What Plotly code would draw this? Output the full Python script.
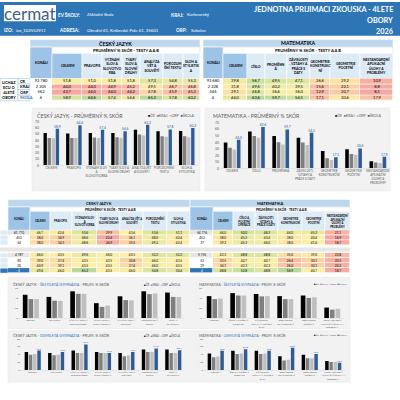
import plotly.graph_objects as go
import numpy as np

# ================= DATA =================
levels = ["ČR", "KRAJ", "ORP", "ŠKOLA"]

# --- table 1 (4leté obory) ---
cj_hdr1 = ["CELKEM", "PRAVOPIS", "VÝZNAM<br>SLOV A<br>SLOVOTVO<br>RBA", "TVARY<br>SLOV A<br>SLOVNÍ<br>DRUHY",
           "ANALÝZA<br>VĚT A<br>SOUVĚTÍ", "POROZUM<br>ĚNÍ TEXTU", "SLOH A<br>STYLISTIK<br>A"]
ma_hdr1 = ["CELKEM", "ČÍSLO", "PROMĚNN<br>Á", "ZÁVISLOSTI<br>, VZTAHY A<br>PRÁCE S<br>DATY",
           "GEOMETRIE<br>KONSTRUKČ<br>NÍ", "GEOMETRIE<br>POČETNÍ", "NESTANDARDNÍ<br>APLIKAČNÍ<br>ÚLOHY A<br>PROBLÉMY"]
cj_konali_4 = ["93 780", "2 205", "563", "6"]
ma_konali_4 = ["93 680", "2 228", "546", "4"]
cj_cr_4 = [51.8, 51.0, 51.8, 51.8, 57.3, 54.8, 55.3]
cj_kraj_4 = [44.0, 44.0, 44.9, 45.2, 49.5, 46.7, 46.8]
cj_orp_4 = [43.7, 44.0, 44.0, 44.2, 47.8, 45.9, 45.3]
cj_skola_4 = [58.9, 64.6, 57.4, 54.6, 65.3, 57.8, 60.2]
ma_cr_4 = [39.8, 56.7, 49.5, 47.1, 26.6, 29.2, 10.9]
ma_kraj_4 = [31.8, 49.6, 40.2, 39.5, 15.6, 22.1, 8.8]
ma_orp_4 = [29.1, 46.8, 36.6, 36.0, 12.9, 20.7, 8.1]
ma_skola_4 = [44.0, 63.6, 59.7, 54.5, 17.1, 30.6, 17.9]

# --- chart categories ---
cj_cats_a = ["CELKEM", "PRAVOPIS", "VÝZNAM SLOV<br>A<br>SLOVOTVORBA", "TVARY SLOV A<br>SLOVNÍ DRUHY",
             "ANALÝZA VĚT<br>A SOUVĚTÍ", "POROZUMĚNÍ<br>TEXTU", "SLOH A<br>STYLISTIKA"]
ma_cats_b = ["CELKEM", "ČÍSLO", "PROMĚNNÁ", "ZÁVISLOSTI,<br>VZTAHY A<br>PRÁCE S DATY", "GEOMETRIE<br>KONSTRUKČNÍ",
             "GEOMETRIE<br>POČETNÍ", "NESTANDARDNÍ<br>APLIKAČNÍ<br>ÚLOHY A<br>PROBLÉMY"]
cj_cats_g = ["CELKEM", "PRAVOPIS", "VÝZNAM SLOV A<br>SLOVOTVORBA", "TVARY SLOV A<br>SLOVNÍ DRUHY",
             "ANALÝZA VĚT A<br>SOUVĚTÍ", "POROZUMĚNÍ<br>TEXTU", "SLOH A<br>STYLISTIKA"]
ma_cats_g = ["CELKEM", "ČÍSLO A POČETNÍ<br>OPERACE", "ZÁVISLOSTI,<br>VZTAHY A PRÁCE S<br>DATY", "GEOMETRIE<br>KONSTRUKČNÍ",
             "GEOMETRIE<br>POČETNÍ", "NESTANDARDNÍ<br>APLIKAČNÍ ÚLOHY A<br>PROBLÉMY"]

# --- table 2 (gymnázia) ---
cj_hdr2 = ["CELKEM", "PRAVOPIS", "VÝZNAM SLOV<br>A<br>SLOVOTVORBA", "TVARY SLOV A<br>SLOVNÍ DRUHY",
           "ANALÝZA VĚT A<br>SOUVĚTÍ", "POROZUMĚNÍ<br>TEXTU", "SLOH A<br>STYLISTIKA"]
ma_hdr2 = ["CELKEM", "ČÍSLO A<br>POČETNÍ<br>OPERACE", "ZÁVISLOSTI,<br>VZTAHY A<br>PRÁCE S DATY", "GEOMETRIE<br>KONSTRUKČNÍ",
           "GEOMETRIE<br>POČETNÍ", "NESTANDARDNÍ<br>APLIKAČNÍ<br>ÚLOHY A<br>PROBLÉMY"]
cj_konali_6 = ["61 770", "452", "54"]
ma_konali_6 = ["54 776", "452", "37"]
cj_cr_6 = [46.7, 42.4, 53.6, 29.9, 43.6, 53.6, 51.1]
cj_kraj_6 = [38.0, 34.9, 48.6, 22.4, 36.1, 48.0, 42.4]
cj_orp_6 = [38.0, 34.3, 48.6, 24.9, 35.5, 49.2, 42.4]
ma_cr_6 = [44.0, 50.0, 48.2, 44.0, 45.2, 21.1]
ma_kraj_6 = [38.0, 45.2, 43.4, 38.0, 40.4, 16.9]
ma_orp_6 = [39.2, 45.2, 44.0, 38.0, 41.6, 18.7]

cj_konali_8 = ["4 787", "90", "20", "4"]
ma_konali_8 = ["5 755", "53", "19", "4"]
cj_cr_8 = [46.0, 43.5, 49.6, 46.0, 43.5, 52.2, 52.2]
cj_kraj_8 = [39.0, 37.4, 43.5, 43.5, 34.8, 46.0, 43.5]
cj_orp_8 = [40.9, 39.1, 43.5, 43.5, 37.4, 46.0, 43.5]
cj_skola_8 = [49.6, 46.0, 65.2, 43.5, 46.0, 54.8, 50.4]
ma_cr_8 = [42.3, 48.8, 48.8, 35.0, 39.0, 22.8]
ma_kraj_8 = [32.5, 40.7, 40.7, 24.4, 30.1, 20.3]
ma_orp_8 = [34.1, 42.3, 42.3, 26.0, 30.1, 20.3]
ma_skola_8 = [48.8, 52.8, 48.8, 56.9, 40.7, 18.7]

# ================= STYLE =================
FONT = "Lato, 'Open Sans', sans-serif"
BLUE_HDR = "#2E75B6"
C_MID = "#9DC3E6"
C_PALE = "#DDEBF7"
C_TOP = "#BDD7EE"
RED, YEL, GRN = "#F6A7A2", "#FFEFA6", "#B7DA9C"
SER_COL = ["#000000", "#7F7F7F", "#BFBFBF", "#2F5C98"]
GRAYTXT = "#595959"

fig = go.Figure()
SH, AN = [], []


def rect(x0, y0, x1, y1, fill, line=None, lw=0):
    SH.append(dict(type="rect", xref="x", yref="y", x0=x0, y0=y0, x1=x1, y1=y1, fillcolor=fill,
                   line=dict(color=line or fill, width=lw), layer="below"))


def txt(x, y, s, size, color="#000", bold=False, xa="center", ya="middle"):
    AN.append(dict(xref="x", yref="y", x=x, y=y, text=(f"<b>{s}</b>" if bold else s), showarrow=False,
                   font=dict(size=size, color=color, family=FONT), xanchor=xa, yanchor=ya, align="center",
                   borderpad=0))


def fmt(v):
    return f"{v:.1f}".replace(".", ",")


def scale_for(values):
    v = np.array(values, float).ravel()
    lo, hi, mid = v.min(), v.max(), np.percentile(v, 50)
    p = float((mid - lo) / (hi - lo))
    return [[0, RED], [p, YEL], [1, GRN]], lo, hi


def heat(xe, ye, rows, fs, cs=None, zr=None, const=None, tcol="#000"):
    z = np.array(rows, float) if const is None else np.zeros((len(rows), len(rows[0])))
    text = [[(fmt(v) if const is None else v) for v in r] for r in rows]
    if const is not None:
        cs, zr = [[0, const], [1, const]], (0, 1)
    fig.add_trace(go.Heatmap(x=xe, y=ye, z=z, text=text, texttemplate="%{text}",
                             textfont=dict(size=fs, color=tcol, family=FONT), colorscale=cs,
                             zmin=zr[0], zmax=zr[1], showscale=False, xgap=0.7, ygap=0.7,
                             hoverinfo="skip", xaxis="x", yaxis="y"))


def konali(xe, ye, counts, fs):
    # ČR row light gray, ŠKOLA row (if present) blue, others white
    for k, cnt in enumerate(counts):
        fill, tc = "#FFFFFF", "#000"
        if k == 0:
            fill = "#E7E6E6"
        if k == 3:
            fill, tc = "#2E75B6", "#FFFFFF"
        heat(xe, ye[k:k + 2], [[cnt]], fs, const=fill, tcol=tc)


# ================= HEADER =================
rect(0, 0, 400, 34, BLUE_HDR)
rect(4, 3, 56, 19.5, "#FFFFFF")
txt(30, 11.5, "cermat", 17, "#3F5E8C")
txt(57, 13, "EV ŠKOLY:", 4.6, "white", True, "left")
txt(86, 13, "Základní škola", 4.3, "white", False, "left")
txt(170, 13, "KRAJ:", 4.6, "white", True, "left")
txt(186, 13, "Karlovarský", 4.3, "white", False, "left")
txt(3, 28.5, "IZO:", 4.6, "white", True, "left")
txt(15, 28.5, "izo_102552911", 4.3, "white", False, "left")
txt(58, 28.5, "ADRESA:", 4.6, "white", True, "left")
txt(86, 28.5, "Okružní 61, Královské Pole 61, 35601", 4.3, "white", False, "left")
txt(175, 28.5, "ORP:", 4.6, "white", True, "left")
txt(190, 28.5, "Sokolov", 4.3, "white", False, "left")
txt(394, 7.5, "JEDNOTNA PRIJIMACI ZKOUSKA - 4LETE", 7.3, "white", True, "right")
txt(394, 18.5, "OBORY", 7.3, "white", True, "right")
txt(394, 29.5, "2026", 7.3, "white", True, "right")


# ================= TABLE HELPERS =================
def table_headers(xe, y_top, y_pr, y_hd, y_end, title, hdrs, hfs, tfs):
    rect(xe[0], y_top, xe[-1], y_pr, C_TOP, "#FFFFFF", 0.6)
    txt((xe[0] + xe[-1]) / 2, (y_top + y_pr) / 2, title, tfs, "#000", True)
    rect(xe[1], y_pr, xe[-1], y_hd, "#FFFFFF", "#D0D0D0", 0.5)
    txt((xe[1] + xe[-1]) / 2, (y_pr + y_hd) / 2, "PRŮMĚRNÝ % SKÓR - TESTY A A B", tfs * 0.8, "#000", True)
    rect(xe[0], y_pr, xe[1], y_end, C_MID, "#FFFFFF", 0.6)
    txt((xe[0] + xe[1]) / 2, (y_pr + y_end) / 2, "KONÁLI", hfs, "#000", True)
    for i, h in enumerate(hdrs):
        rect(xe[i + 1], y_hd, xe[i + 2], y_end, C_MID if i == 0 else C_PALE, "#FFFFFF", 0.6)
        txt((xe[i + 1] + xe[i + 2]) / 2, (y_hd + y_end) / 2, h, hfs, "#000", True)


# ================= TABLE 1 =================
cj1_x = [30, 52, 82, 102, 122, 140, 163, 183, 200]
ma1_x = [203, 223, 247, 265, 287, 310, 330, 360, 393]
T1 = (38, 45.5, 52, 77.3)
r1 = [77.3 + 5.6 * k for k in range(5)]
table_headers(cj1_x, *T1, "ČESKÝ JAZYK", cj_hdr1, 3.4, 5.2)
table_headers(ma1_x, *T1, "MATEMATIKA", ma_hdr1, 3.4, 5.2)

cj4 = [cj_cr_4, cj_kraj_4, cj_orp_4, cj_skola_4]
ma4 = [ma_cr_4, ma_kraj_4, ma_orp_4, ma_skola_4]
heat(cj1_x[:2], r1, [[k] for k in cj_konali_4], 4.0, const="#FFFFFF")
cs, lo, hi = scale_for(cj4)
heat(cj1_x[1:], r1, cj4, 4.0, cs, (lo, hi))
heat(ma1_x[:2], r1, [[k] for k in ma_konali_4], 4.0, const="#FFFFFF")
cs, lo, hi = scale_for(ma4)
heat(ma1_x[1:], r1, ma4, 4.0, cs, (lo, hi))

rect(0, r1[0], 18, r1[-1], "#FFFFFF", "#9DC3E6", 0.6)
txt(9, (r1[0] + r1[-1]) / 2, "UCHAZ<br>EČŮ O<br>4LETÉ<br>OBORY", 3.9, "#000", True)
for k, lab in enumerate(levels):
    rect(18, r1[k], 30, r1[k + 1], "#FFFFFF", "#9DC3E6", 0.6)
    txt(19, (r1[k] + r1[k + 1]) / 2, lab, 3.9, "#2E75B6" if k == 3 else "#000", True, "left")

# ================= TABLE 2 =================
cj2_x = [8, 30, 50, 72, 97, 120, 143, 167, 190]
ma2_x = [190, 213, 233, 255, 278, 302, 325, 350]
T2 = (199.5, 207, 211.5, 230.5)
rb1 = [230.5 + 5.0 * k for k in range(4)]
rb2 = [253.5 + 5.1 * k for k in range(5)]
table_headers(cj2_x, *T2, "ČESKÝ JAZYK", cj_hdr2, 2.7, 4.0)
table_headers(ma2_x, *T2, "MATEMATIKA", ma_hdr2, 2.7, 4.0)
rect(0, 248, 350, 252, "#E7E6E6", "#E7E6E6", 0)

cj6 = [cj_cr_6, cj_kraj_6, cj_orp_6]
ma6 = [ma_cr_6, ma_kraj_6, ma_orp_6]
cj8 = [cj_cr_8, cj_kraj_8, cj_orp_8, cj_skola_8]
ma8 = [ma_cr_8, ma_kraj_8, ma_orp_8, ma_skola_8]
cs_cj2, lo_cj2, hi_cj2 = scale_for(cj6 + cj8)
cs_ma2, lo_ma2, hi_ma2 = scale_for(ma6 + ma8)
konali(cj2_x[:2], rb1, cj_konali_6, 3.2)
heat(cj2_x[1:], rb1, cj6, 3.2, cs_cj2, (lo_cj2, hi_cj2))
konali(ma2_x[:2], rb1, ma_konali_6, 3.2)
heat(ma2_x[1:], rb1, ma6, 3.2, cs_ma2, (lo_ma2, hi_ma2))
konali(cj2_x[:2], rb2, cj_konali_8, 3.2)
heat(cj2_x[1:], rb2, cj8, 3.2, cs_cj2, (lo_cj2, hi_cj2))
konali(ma2_x[:2], rb2, ma_konali_8, 3.2)
heat(ma2_x[1:], rb2, ma8, 3.2, cs_ma2, (lo_ma2, hi_ma2))
for rr in (rb1, rb2):
    for k in range(len(rr) - 1):
        rect(0, rr[k], 8, rr[k + 1], "#2E75B6" if (len(rr) == 5 and k == 3) else C_PALE, "#FFFFFF", 0.6)

# ================= BAR CHARTS =================
charts = [
    dict(panel=(32, 107, 200, 191), plot=(40, 198, 121, 165), cats=cj_cats_a,
         ser=[cj_cr_4, cj_kraj_4, cj_orp_4, cj_skola_4], ymax=70, dt=10, cfs=3.0, yfs=3.4, tfs=3.4,
         title=["ČESKÝ JAZYK - PRŮMĚRNÝ % SKÓR"], tpos=(36, 114.3), tsz=5.2, lpos=(196, 114.5), lsz=3.6),
    dict(panel=(205, 107, 390, 191), plot=(220, 390, 122, 168), cats=ma_cats_b,
         ser=[ma_cr_4, ma_kraj_4, ma_orp_4, ma_skola_4], ymax=70, dt=10, cfs=3.0, yfs=3.4, tfs=3.4,
         title=["MATEMATIKA - PRŮMĚRNÝ % SKÓR"], tpos=(212, 114.6), tsz=5.2, lpos=(383, 114.5), lsz=3.6),
    dict(panel=(8, 278, 197, 330), plot=(19, 185, 289, 319.3), cats=cj_cats_g,
         ser=[cj_cr_6, cj_kraj_6, cj_orp_6, None], ymax=60, dt=20, cfs=2.4, yfs=2.6, tfs=2.6,
         title=["ČESKÝ JAZYK - ", "ŠESTILETÁ GYMNÁZIA", " - PRŮM. % SKÓR"], tpos=(12, 284.5), tsz=3.8,
         lpos=(181, 284.5), lsz=2.8),
    dict(panel=(198, 278, 350, 330), plot=(203, 344, 289, 319.3), cats=ma_cats_g,
         ser=[ma_cr_6, ma_kraj_6, ma_orp_6, None], ymax=60, dt=20, cfs=2.4, yfs=2.6, tfs=2.6,
         title=["MATEMATIKA - ", "ŠESTILETÁ GYMNÁZIA", " - PRŮM. % SKÓR"], tpos=(198, 284.5), tsz=3.4,
         lpos=(348, 284.5), lsz=2.6),
    dict(panel=(8, 332, 197, 384), plot=(21, 185, 340, 371.7), cats=cj_cats_g,
         ser=[cj_cr_8, cj_kraj_8, cj_orp_8, cj_skola_8], ymax=80, dt=20, cfs=2.4, yfs=2.6, tfs=2.6,
         title=["ČESKÝ JAZYK - ", "OSMILETÁ GYMNÁZIA", " - PRŮM. % SKÓR"], tpos=(12, 336.5), tsz=3.8,
         lpos=(181, 336.5), lsz=2.8),
    dict(panel=(198, 332, 350, 384), plot=(204, 345, 340, 371.7), cats=ma_cats_g,
         ser=[ma_cr_8, ma_kraj_8, ma_orp_8, ma_skola_8], ymax=80, dt=20, cfs=2.4, yfs=2.6, tfs=2.6,
         title=["MATEMATIKA - ", "OSMILETÁ GYMNÁZIA", " - PRŮM. % SKÓR"], tpos=(198, 336.5), tsz=3.4,
         lpos=(348, 336.5), lsz=2.6),
]

lay = {}
for i, c in enumerate(charts):
    n = i + 2
    xa, ya = f"x{n}", f"y{n}"
    px0, px1, pyt, pyb = c["plot"]
    rect(*c["panel"][:2], *c["panel"][2:], "#F2F2F2", "#E4E4E4", 0.5)
    for s, (vals, col, name) in enumerate(zip(c["ser"], SER_COL, levels)):
        if vals is None:
            continue
        is_sk = s == 3
        fig.add_trace(go.Bar(x=c["cats"], y=vals, marker=dict(color=col, line=dict(width=0)), name=name,
                             showlegend=False, xaxis=xa, yaxis=ya, hoverinfo="skip",
                             text=[fmt(v) for v in vals] if is_sk else None,
                             textposition="outside" if is_sk else None, cliponaxis=False,
                             constraintext="none",
                             textfont=dict(size=c["tfs"], color="#2F5C98", family=FONT)))
    lay[f"xaxis{n}"] = dict(domain=[px0 / 400, px1 / 400], anchor=ya, showgrid=False, zeroline=False,
                            showline=True, linecolor="#D9D9D9", linewidth=0.5, ticks="",
                            tickfont=dict(size=c["cfs"], color=GRAYTXT, family=FONT), tickangle=0,
                            fixedrange=True)
    lay[f"yaxis{n}"] = dict(domain=[1 - pyb / 400, 1 - pyt / 400], anchor=xa, range=[0, c["ymax"]],
                            dtick=c["dt"], showgrid=False, zeroline=False, showline=False, ticks="",
                            tickfont=dict(size=c["yfs"], color=GRAYTXT, family=FONT), fixedrange=True)
    t = c["title"]
    if len(t) == 1:
        ttxt = t[0]
    else:
        ttxt = f"{t[0]}<span style='color:#2E75B6'>{t[1]}</span>{t[2]}"
    txt(c["tpos"][0], c["tpos"][1], ttxt, c["tsz"], GRAYTXT, False, "left")
    leg = "  ".join(f"<span style='color:{col}'>■</span>{nm}" for col, nm in zip(SER_COL, levels))
    txt(c["lpos"][0], c["lpos"][1], leg, c["lsz"], GRAYTXT, False, "right")

fig.update_layout(
    width=400, height=400, margin=dict(l=0, r=0, t=0, b=0), paper_bgcolor="#FFFFFF",
    plot_bgcolor="rgba(0,0,0,0)", barmode="group", bargap=0.28, bargroupgap=0.18,
    showlegend=False, font=dict(family=FONT),
    xaxis=dict(domain=[0, 1], range=[0, 400], visible=False, fixedrange=True),
    yaxis=dict(domain=[0, 1], range=[400, 0], visible=False, fixedrange=True),
    shapes=SH, annotations=AN, **lay)

fig.write_html("out.html", config=dict(displayModeBar=False, staticPlot=True),
               post_script="document.body.style.margin='0';document.body.style.overflow='hidden';")
